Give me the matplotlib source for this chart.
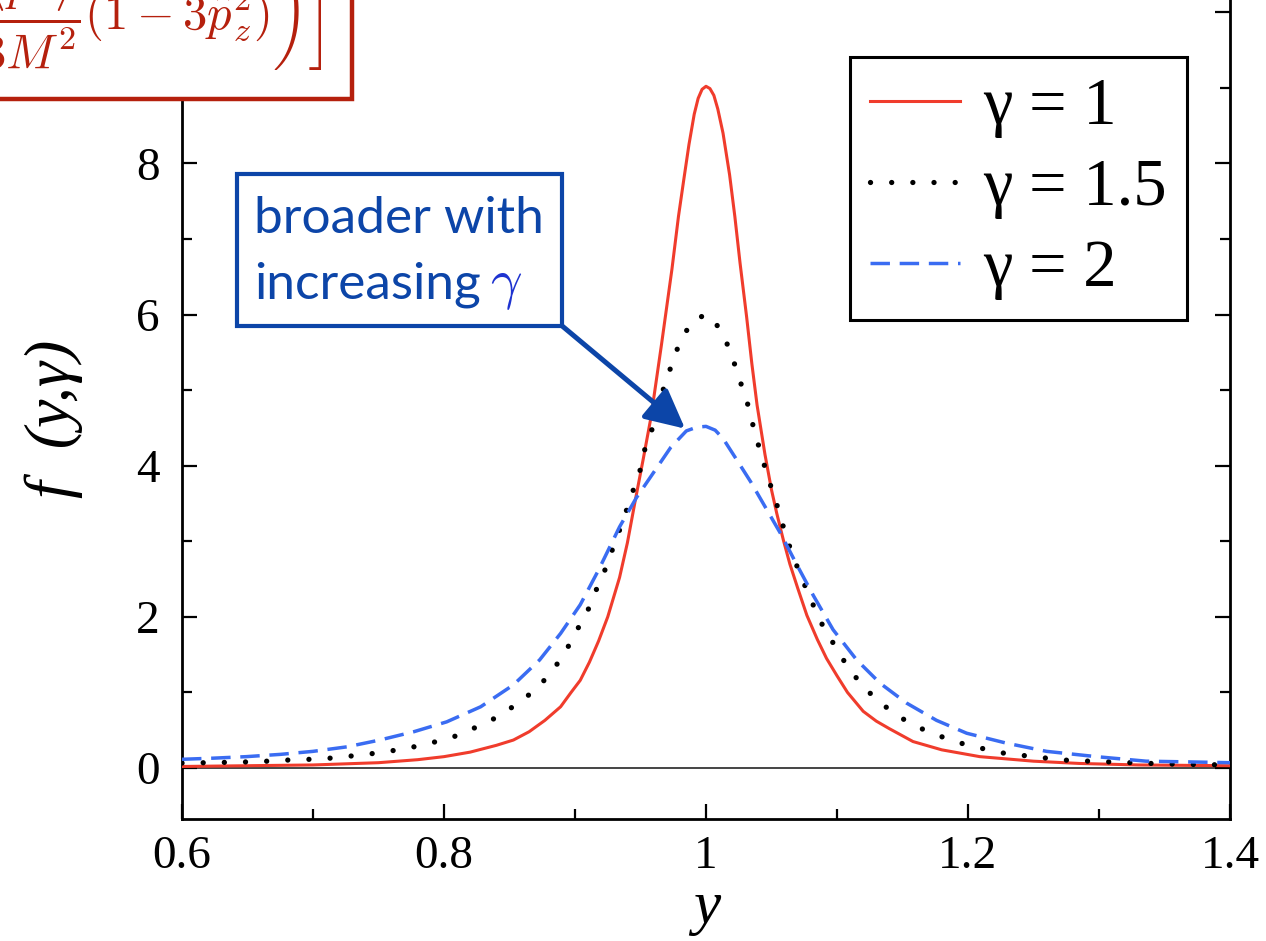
import matplotlib
matplotlib.use("Agg")
import matplotlib.pyplot as plt
from matplotlib.patches import Rectangle
from matplotlib.lines import Line2D

plt.rcParams["mathtext.fontset"] = "cm"

# ---- data: f(y, gamma) ----
y_g1 = [0.600, 0.650, 0.700, 0.750, 0.780, 0.800, 0.820, 0.840, 0.853, 0.865,
        0.877, 0.889, 0.897, 0.904, 0.911, 0.918, 0.925, 0.934, 0.940, 0.946,
        0.952, 0.958, 0.962, 0.966, 0.970, 0.974, 0.979, 0.983, 0.987, 0.991,
        0.994, 0.997, 1.000, 1.003, 1.006, 1.009, 1.013, 1.018, 1.022, 1.026,
        1.031, 1.035, 1.039, 1.045, 1.050, 1.054, 1.059, 1.064, 1.070, 1.077,
        1.085, 1.092, 1.100, 1.108, 1.120, 1.130, 1.140, 1.158, 1.180, 1.209,
        1.250, 1.285, 1.330, 1.400]
f_g1 = [0.02, 0.03, 0.04, 0.07, 0.11, 0.15, 0.21, 0.30, 0.37, 0.48,
        0.63, 0.81, 1.00, 1.16, 1.40, 1.68, 2.00, 2.52, 2.98, 3.54,
        4.08, 4.64, 5.12, 5.60, 6.10, 6.60, 7.30, 7.78, 8.25, 8.65,
        8.86, 8.98, 9.02, 8.99, 8.90, 8.72, 8.40, 7.85, 7.30, 6.68,
        5.97, 5.35, 4.80, 4.15, 3.68, 3.37, 3.02, 2.70, 2.38, 2.02,
        1.70, 1.45, 1.22, 1.00, 0.75, 0.62, 0.52, 0.35, 0.24, 0.15,
        0.09, 0.06, 0.04, 0.03]

y_g15 = [0.600, 0.619, 0.635, 0.650, 0.665, 0.681, 0.698, 0.713, 0.730, 0.745,
         0.761, 0.777, 0.792, 0.807, 0.822, 0.836, 0.850, 0.863, 0.875, 0.885,
         0.894, 0.901, 0.909, 0.915, 0.922, 0.933, 0.938, 0.943, 0.949, 0.952,
         0.957, 0.963, 0.966, 0.971, 0.976, 0.982, 0.990, 1.000, 1.004, 1.013,
         1.019, 1.024, 1.029, 1.034, 1.037, 1.042, 1.046, 1.051, 1.056, 1.060,
         1.065, 1.071, 1.077, 1.083, 1.090, 1.099, 1.107, 1.117, 1.128, 1.140,
         1.153, 1.167, 1.182, 1.198, 1.213, 1.229, 1.245, 1.260, 1.277, 1.293,
         1.309, 1.324, 1.340, 1.360, 1.380, 1.400]
f_g15 = [0.065, 0.07, 0.075, 0.08, 0.09, 0.105, 0.115, 0.13, 0.16, 0.19,
         0.23, 0.28, 0.34, 0.41, 0.52, 0.63, 0.78, 0.94, 1.13, 1.34,
         1.58, 1.81, 2.05, 2.31, 2.58, 3.10, 3.34, 3.61, 3.88, 4.15,
         4.40, 4.67, 4.94, 5.19, 5.46, 5.70, 5.92, 6.00, 5.97, 5.74,
         5.49, 5.23, 4.96, 4.70, 4.43, 4.17, 3.91, 3.65, 3.38, 3.13,
         2.87, 2.60, 2.35, 2.11, 1.85, 1.60, 1.37, 1.14, 0.94, 0.77,
         0.62, 0.50, 0.40, 0.31, 0.25, 0.19, 0.16, 0.13, 0.10, 0.09,
         0.08, 0.07, 0.06, 0.05, 0.045, 0.04]

y_g2 = [0.600, 0.624, 0.649, 0.675, 0.700, 0.726, 0.751, 0.777, 0.802, 0.828,
        0.853, 0.873, 0.889, 0.904, 0.918, 0.934, 0.947, 0.960, 0.973, 0.985,
        0.993, 1.000, 1.007, 1.013, 1.023, 1.034, 1.045, 1.057, 1.069, 1.082,
        1.097, 1.115, 1.133, 1.153, 1.176, 1.199, 1.229, 1.260, 1.298, 1.336,
        1.370, 1.400]
f_g2 = [0.115, 0.13, 0.15, 0.18, 0.22, 0.28, 0.37, 0.48, 0.61, 0.81,
        1.10, 1.43, 1.78, 2.16, 2.62, 3.19, 3.58, 3.91, 4.24, 4.46,
        4.51, 4.52, 4.47, 4.36, 4.09, 3.79, 3.46, 3.10, 2.70, 2.28,
        1.83, 1.43, 1.12, 0.86, 0.63, 0.46, 0.33, 0.22, 0.15, 0.09,
        0.08, 0.07]

series_labels = ["γ = 1", "γ = 1.5", "γ = 2"]
x_ticks = [0.6, 0.8, 1.0, 1.2, 1.4]
x_ticklabels = ["0.6", "0.8", "1", "1.2", "1.4"]
y_ticks = [0, 2, 4, 6, 8, 10]
y_ticklabels = ["0", "2", "4", "6", "8", ""]

W, H = 1266, 941
SERIF = "Liberation Serif"
RED = "#F03C2C"
BLUE = "#3A6CF2"
NAVY = "#0C45A8"
BOXRED = "#B5200D"

DOTS = (0, (0.01, 4.0))
DASHES = (0, (5.6, 2.8))


def fx(px):
    return px / W


def fy(py):
    return 1 - py / H


fig = plt.figure(figsize=(W / 100, H / 100), dpi=100)
ax = fig.add_axes([fx(182), fy(819), (1230 - 182) / W, (819 + 18) / H])

ax.axhline(0, color="#444444", lw=1.4, zorder=1)
ax.plot(y_g1, f_g1, color=RED, lw=2.2, zorder=3)
ax.plot(y_g15, f_g15, color="black", lw=3.8, ls=DOTS,
        dash_capstyle="round", zorder=3)
ax.plot(y_g2, f_g2, color=BLUE, lw=2.5, ls=DASHES, zorder=3)

ax.set_xlim(0.6, 1.4)
ax.set_ylim(-0.675, 10.4)
ax.set_xticks(x_ticks)
ax.set_xticklabels(x_ticklabels)
ax.set_xticks([0.7, 0.9, 1.1, 1.3], minor=True)
ax.set_yticks(y_ticks)
ax.set_yticklabels(y_ticklabels)
ax.set_yticks([1, 3, 5, 7, 9], minor=True)
ax.tick_params(which="both", direction="in", top=True, right=True,
               width=1.6, colors="black")
ax.tick_params(which="major", length=11)
ax.tick_params(which="minor", length=7)
ax.tick_params(axis="x", which="major", pad=12)
ax.tick_params(axis="y", which="major", pad=16)
for lab in ax.get_xticklabels() + ax.get_yticklabels():
    lab.set_fontfamily(SERIF)
    lab.set_fontsize(34)
for sp in ax.spines.values():
    sp.set_linewidth(2.0)

# legend
handles = [
    Line2D([], [], color=RED, lw=2.2),
    Line2D([], [], color="black", lw=3.8, ls=DOTS, dash_capstyle="round"),
    Line2D([], [], color=BLUE, lw=2.5, ls=DASHES),
]
leg = ax.legend(handles, series_labels, loc="upper right",
                bbox_to_anchor=(fx(1187), fy(57)), bbox_transform=fig.transFigure,
                borderaxespad=0, prop={"family": SERIF, "size": 48},
                handlelength=1.35, handletextpad=0.35, labelspacing=0.3,
                borderpad=0.3, fancybox=False, framealpha=1,
                edgecolor="black")
leg.get_frame().set_linewidth(2.2)

# axis labels
fig.text(fx(707), fy(908), "y", ha="center", va="center",
         family=SERIF, style="italic", size=44)
fig.text(fx(54), fy(419), "f  (y,γ)", ha="center", va="center", rotation=90,
         family=SERIF, style="italic", size=46)

# formula box in the corner
fig.add_artist(Rectangle((fx(-30), fy(99)), (352 + 30) / W, (99 + 30) / H,
                         transform=fig.transFigure, facecolor="white",
                         edgecolor=BOXRED, lw=3.2, zorder=5))
fig.text(fx(322), fy(30),
         r"$\left[1+\ldots\left(\dfrac{\langle p^2\rangle}{3M^2}(1-3\hat{p}_z^2)\right)\right]$",
         ha="right", va="baseline", color=BOXRED, size=35, zorder=6)

# callout box with arrow
fig.add_artist(Rectangle((fx(237), fy(326)), (562 - 237) / W, (326 - 174) / H,
                         transform=fig.transFigure, facecolor="white",
                         edgecolor=NAVY, lw=3.0, zorder=5))
fig.text(fx(254), fy(233), "broader with", ha="left", va="baseline",
         family="Lato", size=37, color=NAVY, zorder=6)
fig.text(fx(254), fy(298), "increasing", ha="left", va="baseline",
         family="Lato", size=37, color=NAVY, zorder=6)
fig.text(fx(490), fy(298), r"$\gamma$", ha="left", va="baseline",
         size=40, color="#1E33D0", zorder=6)
ax.annotate("", xy=(0.984, 4.49), xycoords="data",
            xytext=(fx(561), fy(325)), textcoords="figure fraction",
            arrowprops=dict(arrowstyle="-|>,head_length=1.0,head_width=0.5",
                            mutation_scale=24, lw=3.6, color=NAVY,
                            shrinkA=0, shrinkB=0), zorder=6)

fig.savefig("out.png", dpi=100, facecolor="white")
